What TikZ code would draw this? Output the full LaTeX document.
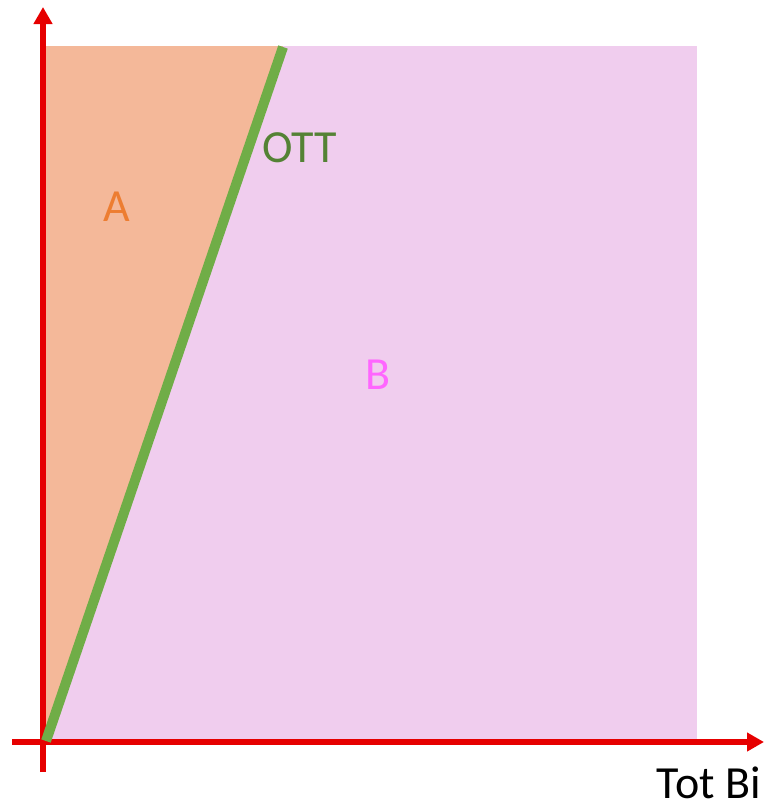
\documentclass[tikz,border=0pt]{standalone}
\usepackage{fontspec}
\setmainfont{Carlito}
\usetikzlibrary{arrows.meta}
\definecolor{zonaA}{HTML}{F4B899}
\definecolor{zonaB}{HTML}{F0CDEE}
\definecolor{eixos}{HTML}{E60000}
\definecolor{linia}{HTML}{70AD47}
\definecolor{textA}{HTML}{ED7D31}
\definecolor{textB}{HTML}{FF66FF}
\definecolor{textOTT}{HTML}{548235}
\begin{document}
\begin{tikzpicture}[x=1pt,y=-1pt,
    eix/.style={eixos, line width=6pt, -{Triangle[width=18pt,length=17pt]}},
    etiq/.style={font=\fontsize{46}{50}\selectfont, inner sep=0pt}]
        \useasboundingbox (0,0) rectangle (764,807);
        % Zones: B (rosa) i A (taronja)
        \fill[zonaB] (43,46) rectangle (697,740);
        \fill[zonaA] (43,46) -- (283,46) -- (43,740) -- cycle;
        % Eixos
        \coordinate (o) at (46,741);
        \coordinate (ydalt) at (43,7);
        \coordinate (ybaix) at (43,772);
        \coordinate (xesq) at (12,742);
        \coordinate (xdreta) at (764,742);
        \draw[eix] (ybaix) -- (ydalt);
        \draw[eix] (xesq) -- (xdreta);
        % Frontera OTT
        \coordinate (cim) at (283,47);
        \draw[linia, line width=10pt] (o) -- (cim);
        \node[etiq, textA] (a) at (117,207) {A};
        \node[etiq, textB] (b) at (378,375) {B};
        \node[etiq, textOTT] (ott) at (300,148) {OTT};
        \node[etiq, black, anchor=base east] (totbi) at (761,798) {Tot Bi};
    \end{tikzpicture}
\end{document}
